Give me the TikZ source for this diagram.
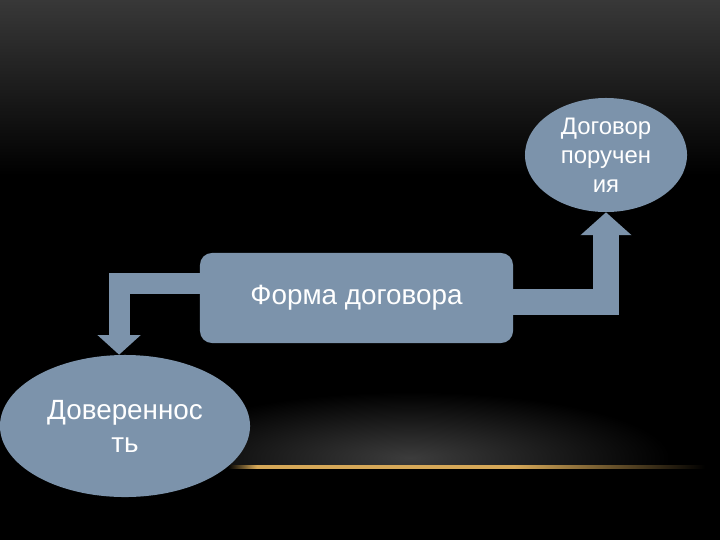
\documentclass[tikz,border=0pt]{standalone}
\usepackage{fontspec}
\setmainfont{Liberation Sans}
\usepackage{xcolor}
\usepackage{tikz}
\usetikzlibrary{arrows.meta,shapes.geometric}
\definecolor{slate}{RGB}{124,147,171}
\definecolor{topgrey}{RGB}{56,56,56}
\definecolor{glow}{RGB}{60,60,60}
\definecolor{gold}{RGB}{214,168,88}
\pgfdeclarehorizontalshading{goldline}{100bp}{color(0bp)=(black); color(25bp)=(black); color(28bp)=(gold); color(55bp)=(gold); color(75bp)=(black); color(100bp)=(black)}

\begin{document}
\begin{tikzpicture}[
    x=0.025cm, y=-0.025cm,
    blob/.style={ellipse,fill=slate,text=white,align=center,inner sep=0pt},
    box/.style={rectangle,rounded corners=0.3cm,fill=slate,text=white,minimum width=7.825cm,minimum height=2.25cm},
    bigfont/.style={font=\fontsize{19.8}{23.4}\selectfont},
    block/.style={draw=slate,line join=miter}
]
\useasboundingbox (0,0) rectangle (720,540);
\fill[black] (0,0) rectangle (720,540);
\shade[top color=topgrey,bottom color=black] (0,0) rectangle (720,175);
\begin{scope}
\clip (0,0) rectangle (720,466);
\shade[inner color=glow,outer color=black] (410,458) ellipse [x radius=260, y radius=66];
\end{scope}
\shade[shading=goldline] (228,465.5) rectangle (705,468.5);
\node[box,bigfont] (forma) at (356.5,298) {Форма договора};
\node[blob,minimum width=4.05cm,minimum height=2.85cm,font=\fontsize{17}{20.5}\selectfont] (poruch) at (606,155) {Договор\\поручен\\ия};
\node[blob,minimum width=6.25cm,minimum height=3.55cm,bigfont] (dover) at (125,426) {Доверенноc\\ть};
\draw[block,line width=15pt,-{Triangle[width=30pt,length=14pt]}] ([yshift=10pt]forma.west) -| ([xshift=-4.2pt]dover.north);
\draw[block,line width=18.4pt,-{Triangle[width=35.4pt,length=16.3pt]}] ([yshift=-2.8pt]forma.east) -| (poruch.south);
\end{tikzpicture}
\end{document}
